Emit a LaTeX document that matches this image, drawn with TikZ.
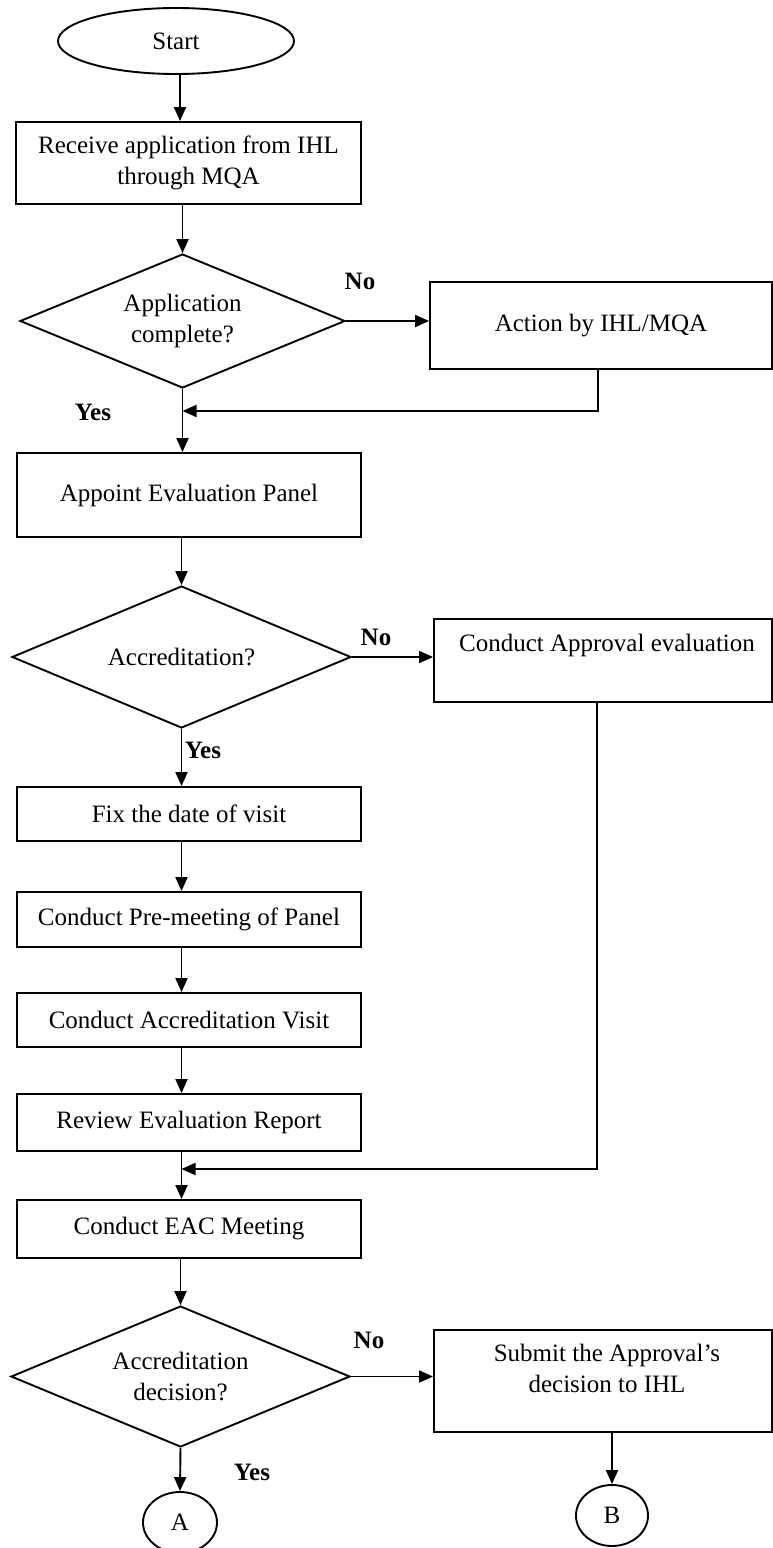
\documentclass[tikz,border=0pt]{standalone}
\usepackage{fontspec}
\setmainfont{Liberation Serif}
\usetikzlibrary{shapes.geometric,arrows.meta}
\begin{document}
\begin{tikzpicture}[x=1pt,y=-1pt,
  every node/.style={font=\fontsize{25}{31}\selectfont},
  box/.style={draw, line width=1.9pt, rectangle, inner sep=0pt, align=center},
  dec/.style={draw, line width=1.9pt, diamond, aspect=2.4, inner sep=0pt, align=center},
  term/.style={draw, line width=1.9pt, ellipse, inner sep=0pt},
  arr/.style={line width=1.9pt, -{Triangle[length=14pt,width=12pt]}},
  lbl/.style={font=\fontsize{25}{31}\selectfont\bfseries, inner sep=0pt}
]
\useasboundingbox (0,0) rectangle (773,1548);

% nodes
\node[term, minimum width=236, minimum height=66] (start) at (176,41) {Start};
\node[box, minimum width=345, minimum height=82] (rcv) at (188.5,163) {Receive application from IHL\\through MQA};
\node[dec, minimum width=325, minimum height=134] (d1) at (182.5,321) {Application\\complete?};
\node[box, minimum width=342, minimum height=87] (act) at (601,325.5) {Action by IHL/MQA};
\node[box, minimum width=344, minimum height=84] (apt) at (189,495) {Appoint Evaluation Panel};
\node[dec, minimum width=339, minimum height=142] (d2) at (181.5,657) {Accreditation?};
\node[box, minimum width=338, minimum height=83] (apr) at (603,660.5) {};
\node (aprt) at (607,645) {Conduct Approval evaluation};
\node[box, minimum width=344, minimum height=54] (fix) at (189,814) {Fix the date of visit};
\node[box, minimum width=344, minimum height=55] (pre) at (189,919.5) {Conduct Pre-meeting of Panel};
\node[box, minimum width=344, minimum height=54] (vis) at (189,1020) {Conduct Accreditation Visit};
\node[box, minimum width=344, minimum height=57] (rev) at (189,1122.5) {Review Evaluation Report};
\node[box, minimum width=344, minimum height=58] (eac) at (189,1229) {Conduct EAC Meeting};
\node[dec, minimum width=339, minimum height=141] (d3) at (180.5,1376.5) {Accreditation\\decision?};
\node[box, minimum width=338, minimum height=102] (sub) at (603,1381) {};
\node[align=center] (subt) at (607,1368) {Submit the Approval’s\\decision to IHL};
\node[term, minimum width=72, minimum height=61] (B) at (612,1515.5) {B};
\node[term, minimum width=74, minimum height=61] (A) at (180,1522.5) {A};

% labels
\node[lbl] (no1) at (360,281) {No};
\node[lbl] (yes1) at (93,412) {Yes};
\node[lbl] (no2) at (376,637) {No};
\node[lbl] (yes2) at (203,750) {Yes};
\node[lbl] (no3) at (369,1340) {No};
\node[lbl] (yes3) at (252,1472) {Yes};

% connectors
\coordinate (m1) at (182.5,411);
\coordinate (m2) at (181.5,1169);
\draw[arr] ([xshift=4pt]start.south) -- ([xshift=4pt]start.south |- rcv.north);
\draw[arr] (d1.north |- rcv.south) -- (d1.north);
\draw[arr] (d1.east) -- (d1.east -| act.west);
\draw[arr] ([xshift=-3pt]act.south) |- (m1);
\draw[arr] (d1.south) -- (d1.south |- apt.north);
\draw[arr] (d2.north |- apt.south) -- (d2.north);
\draw[arr] (d2.east) -- (d2.east -| apr.west);
\draw[arr] ([xshift=-6pt]apr.south) |- (m2);
\draw[arr] (d2.south) -- (d2.south |- fix.north);
\draw[arr] (d2.south |- fix.south) -- (d2.south |- pre.north);
\draw[arr] (d2.south |- pre.south) -- (d2.south |- vis.north);
\draw[arr] (d2.south |- vis.south) -- (d2.south |- rev.north);
\draw[arr] (d2.south |- rev.south) -- (d2.south |- eac.north);
\draw[arr] (d3.north |- eac.south) -- (d3.north);
\draw[arr] (d3.east) -- (d3.east -| sub.west);
\draw[arr] (sub.south -| B.north) -- (B.north);
\draw[arr] (d3.south) -- (A.north);
\end{tikzpicture}
\end{document}
